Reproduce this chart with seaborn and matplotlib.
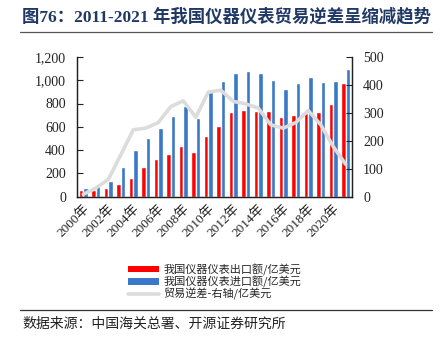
import matplotlib
matplotlib.use("Agg")
import matplotlib.pyplot as plt
import seaborn as sns
import pandas as pd
import numpy as np
from matplotlib.lines import Line2D
from matplotlib.patches import Patch

years = list(range(2000, 2022))
export_vals = [55, 55, 72, 104, 161, 253, 322, 365, 432, 386, 518, 607,
               725, 745, 737, 737, 682, 705, 722, 728, 800, 973]
import_vals = [69, 92, 132, 253, 403, 501, 590, 696, 777, 671, 895, 990,
               1065, 1079, 1062, 999, 929, 978, 1027, 987, 993, 1094]
deficit_vals = [8, 30, 61, 149, 239, 245, 265, 322, 343, 284, 374, 381,
                341, 332, 317, 257, 245, 265, 308, 257, 179, 115]
tick_labels = [f"{y}年" for y in years]

s_exp = "我国仪器仪表出口额/亿美元"
s_imp = "我国仪器仪表进口额/亿美元"
s_def = "贸易逆差-右轴/亿美元"

sns.set_theme(style="white")
CJK = ['Noto Sans CJK SC', 'DejaVu Sans']
SER = ['Liberation Serif', 'Noto Sans CJK SC']
plt.rcParams['font.family'] = SER

df = pd.DataFrame({
    "year": [str(y) for y in years] * 2,
    "value": export_vals + import_vals,
    "series": [s_exp] * len(years) + [s_imp] * len(years),
})

fig = plt.figure(figsize=(4.4, 3.38), dpi=100)
ax = fig.add_axes([77/440, 1 - 196.5/338, 275/440, 139.5/338])

sns.barplot(data=df, x="year", y="value", hue="series",
            palette={s_exp: "#FF0000", s_imp: "#3A78C8"},
            width=0.7, dodge=True, ax=ax, legend=False, saturation=1)

ax2 = ax.twinx()
sns.lineplot(x=np.arange(len(years)), y=deficit_vals, ax=ax2,
             color="#DCDCDC", lw=2.6, legend=False)

ax.set_xlim(-0.5, len(years) - 0.5)
ax.set_ylim(0, 1200)
ax2.set_ylim(0, 500)
ax.set_xlabel("")
ax.set_ylabel("")
ax2.set_ylabel("")

ax.set_yticks(range(0, 1201, 200))
ax.set_yticklabels([f"{v:,}" for v in range(0, 1201, 200)])
ax2.set_yticks(range(0, 501, 100))

ax.set_xticks(range(0, len(years), 2))
ax.set_xticklabels(tick_labels[::2], rotation=45, ha="right",
                   rotation_mode="anchor", fontsize=9.5, color="#222222")
ax.set_xticks(np.arange(-0.5, len(years), 1), minor=True)
ax.tick_params(axis="x", which="major", length=0, pad=4)
ax.tick_params(axis="x", which="minor", length=3, direction="in",
               color="#888888", width=1)

ax.tick_params(axis="y", direction="in", length=4, width=0.8, color="#222222",
               labelsize=10, pad=8, labelcolor="#222222")
ax2.tick_params(axis="y", direction="in", length=4, width=0.8, color="#222222",
                labelsize=10, pad=8, labelcolor="#222222")

for a in (ax, ax2):
    a.spines["top"].set_visible(False)
    for sp in ("left", "right", "bottom"):
        a.spines[sp].set_color("#222222")
        a.spines[sp].set_linewidth(0.9)
ax.grid(False)
ax2.grid(False)

handles = [Patch(facecolor="#FF0000", edgecolor="none"),
           Patch(facecolor="#3A78C8", edgecolor="none"),
           Line2D([0], [0], color="#DCDCDC", lw=2.6)]
leg = fig.legend(handles, [s_exp, s_imp, s_def], loc="upper left",
                 bbox_to_anchor=(122/440, 1 - 258/338), frameon=False,
                 handlelength=2.8, handleheight=0.5, labelspacing=0.0,
                 handletextpad=0.45, borderpad=0,
                 prop={"family": CJK, "size": 8})

fig.text(22/440, 1 - 17/338, "图76：2011-2021 年我国仪器仪表贸易逆差呈缩减趋势",
         family=SER, fontweight="bold", fontsize=12.5, color="#1F3864",
         va="center", ha="left")
fig.add_artist(Line2D([20/440, 432/440], [1 - 32/338, 1 - 32/338],
                      color="#555555", lw=0.9))
fig.add_artist(Line2D([20/440, 432/440], [1 - 310/338, 1 - 310/338],
                      color="#333333", lw=0.9))
fig.text(22/440, 1 - 324/338, "数据来源：中国海关总署、开源证券研究所",
         family=CJK, fontsize=10, color="#222222", va="center", ha="left")

fig.savefig("out.png", dpi=100)
